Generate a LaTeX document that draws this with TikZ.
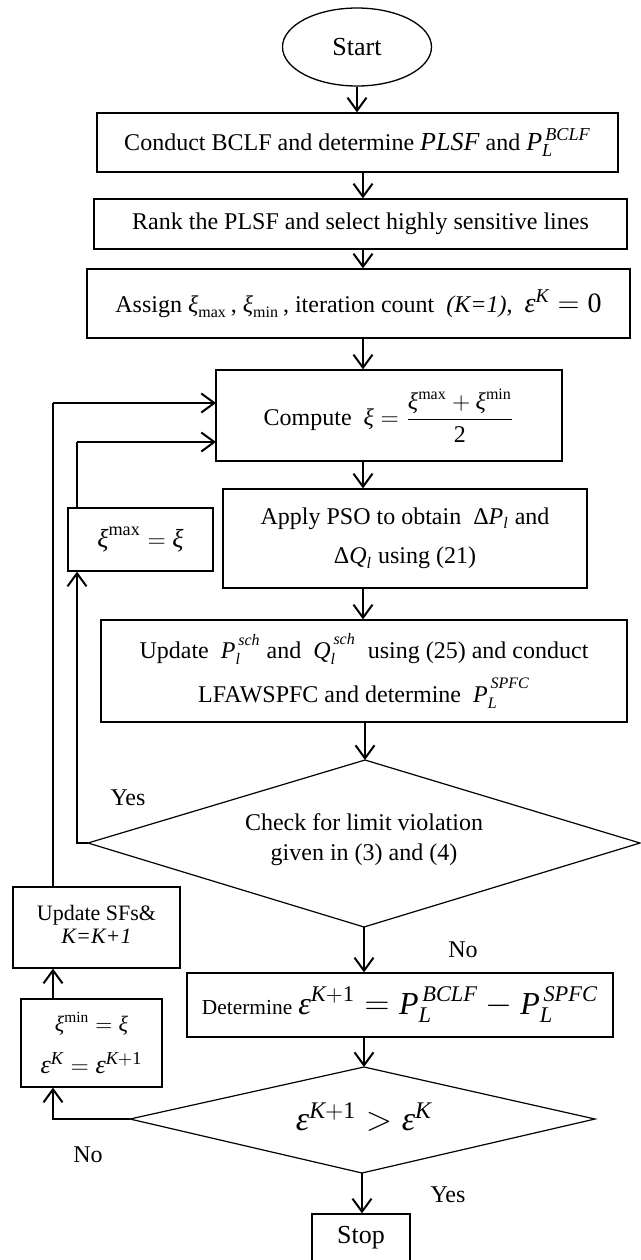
\documentclass[tikz,border=0pt]{standalone}
\usepackage{amsmath}
\usepackage{fontspec}
\setmainfont{Liberation Serif}
\usetikzlibrary{arrows.meta,shapes.geometric}
\newcommand{\vi}[1]{\textit{#1}}
\newcommand{\vr}[1]{\textup{#1}}
\newcommand{\fs}[1]{\fontsize{#1}{#1}\selectfont}
\newcommand{\upsc}[1]{\raisebox{2pt}{$\scriptstyle #1$}}
\begin{document}
\begin{tikzpicture}[x=0.5pt,y=-0.5pt,
  box/.style={draw, line width=0.65pt, inner sep=0pt, align=center, font=\fontsize{12}{14.5}\selectfont},
  arr/.style={line width=1pt, line join=miter, -{Straight Barb[length=6.5pt,width=9.5pt,line width=1pt]}},
  thinln/.style={line width=0.55pt},
  dia/.style={line width=0.6pt},
  lbl/.style={font=\fontsize{12}{14}\selectfont, inner sep=0pt}
]
\useasboundingbox (0,0) rectangle (641,1260);

% nodes
\node[box, ellipse, minimum width=74.5pt, minimum height=39pt, font=\fs{13}] (start) at (357,47) {Start};
\node[box, minimum width=260.5pt, minimum height=29.5pt] (b1) at (357.5,142.5)
  {Conduct BCLF and determine {\fs{13}\vi{PLSF}} and {\fs{13}$\vi{P}_{\vi{L}}^{\,\vi{BCLF}}$}};
\node[box, minimum width=266.5pt, minimum height=25pt] (b2) at (360.5,224)
  {Rank the PLSF and select highly sensitive lines};
\node[box, minimum width=271.5pt, minimum height=34.5pt] (b3) at (358.5,303.5)
  {Assign $\vi{ξ}_{\vr{max}}$\,, $\vi{ξ}_{\vr{min}}$\,, iteration count \ \vi{(K=1)}, \ {\fs{14}$\vi{ε}^{\vi{K}} = \vr{0}$}};
\node[box, minimum width=173pt, minimum height=45.5pt] (comp) at (389,415.5)
  {Compute \ {\fs{12}$\vi{ξ} = \dfrac{\vi{ξ}^{\vr{max}} + \vi{ξ}^{\vr{min}}}{\vr{2}}$}};
\node[box, minimum width=72.5pt, minimum height=31.5pt, font=\fs{13}] (xmax) at (140.5,539.5)
  {$\vi{ξ}^{\vr{max}} = \vi{ξ}$};
\node[box, minimum width=182pt, minimum height=49.5pt] (pso) at (405,538.5)
  {Apply PSO to obtain \ $\vr{Δ}\vi{P}_{\vi{l}}$ and\\[5pt] $\vr{Δ}\vi{Q}_{\vi{l}}$ using (21)};
\node[box, minimum width=263pt, minimum height=51pt] (upd) at (364,671)
  {Update \ $\vi{P}_{\vi{l}}^{\upsc{\,\vi{sch}}}$ and \ $\vi{Q}_{\vi{l}}^{\upsc{\,\vi{sch}}}$ \ using (25) and conduct\\[6pt]
   LFAWSPFC and determine \ $\vi{P}_{\vi{L}}^{\upsc{\,\vi{SPFC}}}$};

% decision 1
\coordinate (d1t) at (365,760);
\coordinate (d1l) at (88,843);
\coordinate (d1r) at (640,843);
\coordinate (d1b) at (364,927);
\draw[dia] (d1t) -- (d1r) -- (d1b) -- (d1l) -- cycle;
\node[align=center, font=\fontsize{12}{14.5}\selectfont, inner sep=0pt] (d1txt) at (364,840)
  {Check for limit violation\\[0.5pt] given in (3) and (4)};

\node[box, minimum width=213pt, minimum height=32pt] (det) at (400,1005)
  {{\fs{10.7}Determine} {\fs{16}$\vi{ε}^{\vi{K}+\vr{1}} = \vi{P}_{\vi{L}}^{\,\vi{BCLF}} - \vi{P}_{\vi{L}}^{\,\vi{SPFC}}$}};

% decision 2
\coordinate (d2t) at (364,1067);
\coordinate (d2l) at (130,1119);
\coordinate (d2r) at (595,1119);
\coordinate (d2b) at (362,1173);
\draw[dia] (d2t) -- (d2r) -- (d2b) -- (d2l) -- cycle;
\node[inner sep=0pt, font=\fs{17}] (d2txt) at (364,1117)
  {$\vi{ε}^{\vi{K}+\vr{1}} > \vi{ε}^{\vi{K}}$};

\node[box, minimum width=83.5pt, minimum height=40.5pt, font=\fontsize{11}{11.5}\selectfont] (sfs) at (96.5,927.5)
  {\raisebox{3pt}{\begin{tabular}{@{}c@{}}Update SFs\&\\ \vi{K=K+1}\end{tabular}}};
\node[box, minimum width=70.5pt, minimum height=44pt, font=\fontsize{11}{13}\selectfont] (xmin) at (91.5,1043)
  {$\vi{ξ}^{\vr{min}} = \vi{ξ}$\\[8pt] {\fs{13}$\vi{ε}^{\vi{K}} = \vi{ε}^{\vi{K}+\vr{1}}$}};
\node[box, minimum width=49pt, minimum height=24pt, font=\fs{13}] (stop) at (361,1238) {Stop};

% labels
\node[lbl] (yes1) at (128,798) {Yes};
\node[lbl] (no1) at (463,950) {No};
\node[lbl] (no2) at (88,1155) {No};
\node[lbl] (yes2) at (448,1195) {Yes};

% helper coordinates
\coordinate (col) at (363,0);
\coordinate (lx1) at (53,0);
\coordinate (lx2) at (77,0);
\coordinate (cin1) at (216,403);
\coordinate (cin2) at (216,442);

% main flow
\draw[arr] (start.south) -- (start.south |- b1.north);
\draw[arr] (b1.south -| col) -- (b2.north -| col);
\draw[arr] (b2.south -| col) -- (b3.north -| col);
\draw[arr] (b3.south -| col) -- (comp.north -| col);
\draw[arr] (comp.south -| col) -- (pso.north -| col);
\draw[arr] (pso.south -| col) -- (upd.north -| col);
\draw[arr] (upd.south -| d1t) -- (d1t);
\draw[arr] (d1b) -- (d1b |- det.north);
\draw[arr] (det.south -| d2t) -- (d2t);
\draw[arr] (d2b) -- (d2b |- stop.north);

% loops
\draw[thinln] (sfs.north -| lx1) -- (cin1 -| lx1);
\draw[arr] (cin1 -| lx1) -- (cin1);
\draw[thinln] (xmax.north -| lx2) -- (cin2 -| lx2);
\draw[arr] (cin2 -| lx2) -- (cin2);
\draw[arr] (d1l) -- (d1l -| lx2) -- (xmax.south -| lx2);
\draw[arr] (d2l) -- (d2l -| lx1) -- (xmin.south -| lx1);
\draw[arr] (xmin.north -| lx1) -- (sfs.south -| lx1);
\end{tikzpicture}
\end{document}
